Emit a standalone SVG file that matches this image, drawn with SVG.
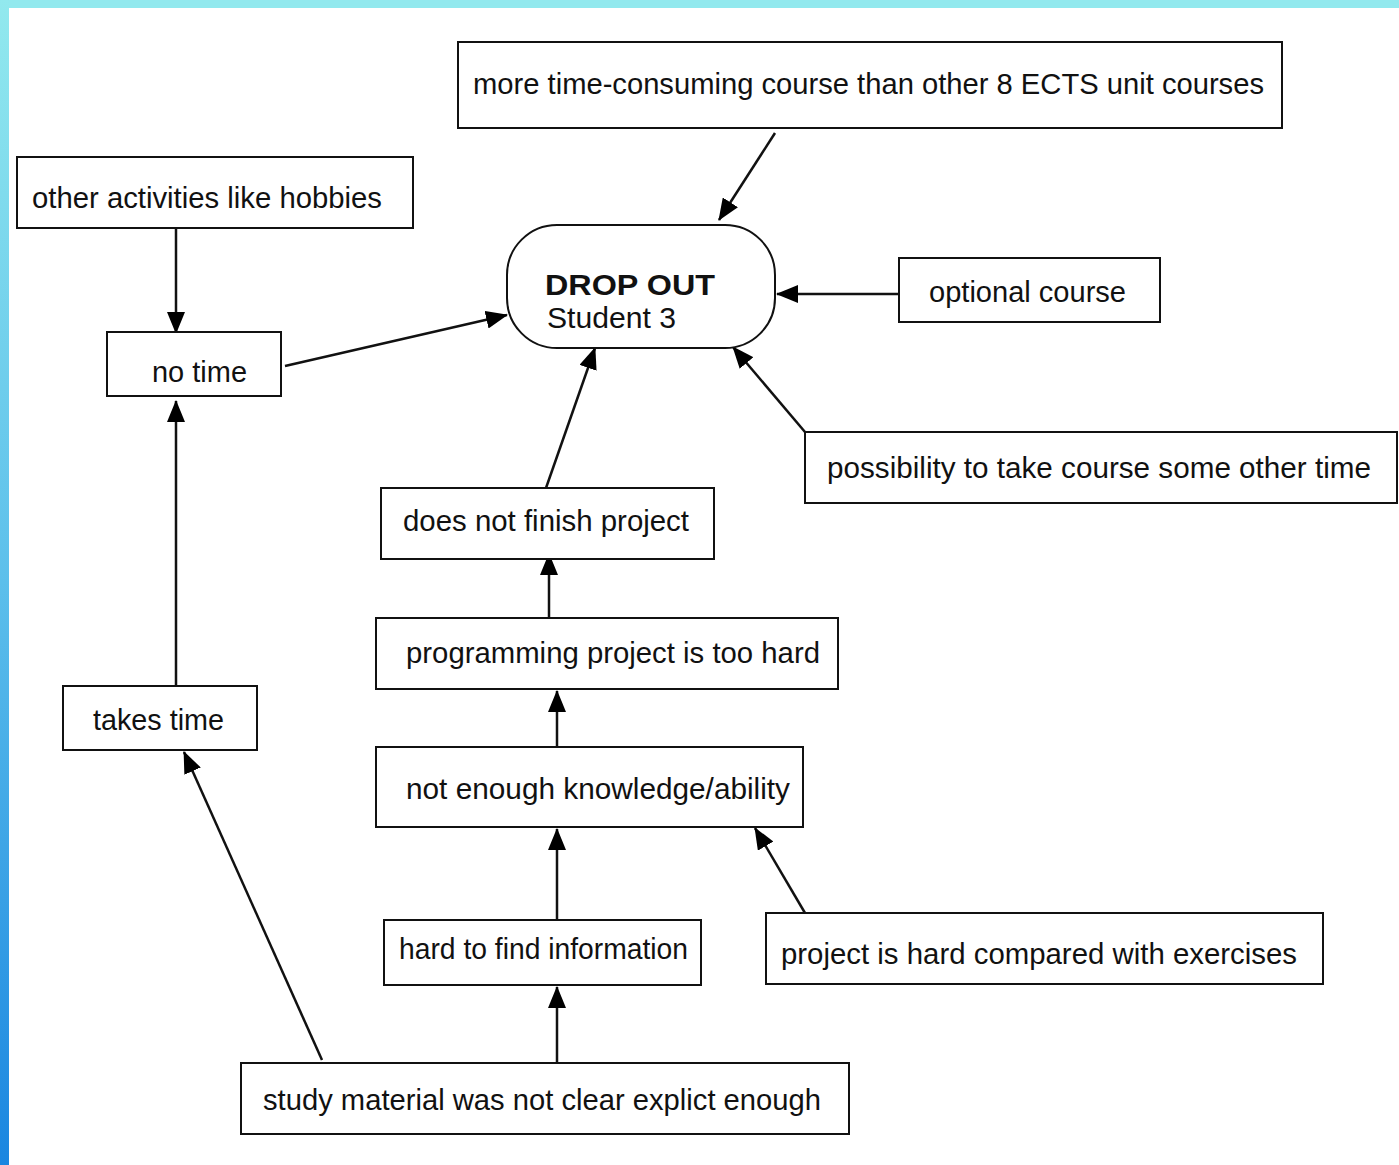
<svg xmlns="http://www.w3.org/2000/svg" width="1399" height="1165" viewBox="0 0 1399 1165">
<defs>
<linearGradient id="lg" x1="0" y1="0" x2="0" y2="1">
<stop offset="0" stop-color="#92E9EE"/>
<stop offset="0.5" stop-color="#5CBFEB"/>
<stop offset="1" stop-color="#1A86E0"/>
</linearGradient>
<marker id="ah" markerUnits="userSpaceOnUse" markerWidth="22" markerHeight="18" refX="21" refY="9" orient="auto">
<path d="M0,0 L22,9 L0,18 Z" fill="#000"/>
</marker>
</defs>
<style>
.bx{fill:#fff;stroke:#111;stroke-width:2}
.t{font-family:"Liberation Sans",Arial,sans-serif;font-size:29px;fill:#111}
.b{font-weight:bold}
.c{stroke:#111;stroke-width:2.5;fill:none;marker-end:url(#ah)}
</style>
<rect width="1399" height="1165" fill="#fff"/>
<rect x="0" y="0" width="1399" height="8" fill="#92E9EE"/>
<rect x="0" y="0" width="9" height="1165" fill="url(#lg)"/>

<g id="connectors">
<line class="c" x1="775" y1="133" x2="719" y2="220"/>
<line class="c" x1="176" y1="228" x2="176" y2="333"/>
<line class="c" x1="285" y1="366" x2="507" y2="315"/>
<line class="c" x1="899" y1="294" x2="777" y2="294"/>
<line class="c" x1="805" y1="432" x2="733" y2="347"/>
<line class="c" x1="546" y1="488" x2="595" y2="348"/>
<line class="c" x1="549" y1="618" x2="549" y2="554"/>
<line class="c" x1="557" y1="747" x2="557" y2="691"/>
<line class="c" x1="557" y1="920" x2="557" y2="829"/>
<line class="c" x1="805" y1="913" x2="755" y2="828"/>
<line class="c" x1="557" y1="1063" x2="557" y2="987"/>
<line class="c" x1="322" y1="1060" x2="184" y2="752"/>
<line class="c" x1="176" y1="686" x2="176" y2="401"/>
</g>

<g id="n-more">
<rect class="bx" x="458" y="42" width="824" height="86"/>
<text class="t" x="473" y="94" textLength="791" lengthAdjust="spacingAndGlyphs">more time-consuming course than other 8 ECTS unit courses</text>
</g>
<g id="n-other">
<rect class="bx" x="17" y="157" width="396" height="71"/>
<text class="t" x="32" y="208" textLength="350" lengthAdjust="spacingAndGlyphs">other activities like hobbies</text>
</g>
<g id="n-notime">
<rect class="bx" x="107" y="332" width="174" height="64"/>
<text class="t" x="152" y="382" textLength="95" lengthAdjust="spacingAndGlyphs">no time</text>
</g>
<g id="n-dropout">
<rect class="bx" x="507" y="225" width="268" height="123" rx="50" ry="50"/>
<text class="t b" x="545" y="295" textLength="170" lengthAdjust="spacingAndGlyphs">DROP  OUT</text>
<text class="t" x="547" y="328" textLength="129" lengthAdjust="spacingAndGlyphs">Student 3</text>
</g>
<g id="n-optional">
<rect class="bx" x="899" y="258" width="261" height="64"/>
<text class="t" x="929" y="302" textLength="197" lengthAdjust="spacingAndGlyphs">optional course</text>
</g>
<g id="n-possibility">
<rect class="bx" x="805" y="432" width="592" height="71"/>
<text class="t" x="827" y="478" textLength="544" lengthAdjust="spacingAndGlyphs">possibility to take course some other time</text>
</g>
<g id="n-finish">
<rect class="bx" x="381" y="488" width="333" height="71"/>
<text class="t" x="403" y="531" textLength="286" lengthAdjust="spacingAndGlyphs">does not finish project</text>
</g>
<g id="n-programming">
<rect class="bx" x="376" y="618" width="462" height="71"/>
<text class="t" x="406" y="663" textLength="414" lengthAdjust="spacingAndGlyphs">programming project is too hard</text>
</g>
<g id="n-takes">
<rect class="bx" x="63" y="686" width="194" height="64"/>
<text class="t" x="93" y="730" textLength="131" lengthAdjust="spacingAndGlyphs">takes time</text>
</g>
<g id="n-knowledge">
<rect class="bx" x="376" y="747" width="427" height="80"/>
<text class="t" x="406" y="799" textLength="384" lengthAdjust="spacingAndGlyphs">not enough knowledge/ability</text>
</g>
<g id="n-hardfind">
<rect class="bx" x="384" y="920" width="317" height="65"/>
<text class="t" x="399" y="959" textLength="289" lengthAdjust="spacingAndGlyphs">hard to find information</text>
</g>
<g id="n-projecthard">
<rect class="bx" x="766" y="913" width="557" height="71"/>
<text class="t" x="781" y="964" textLength="516" lengthAdjust="spacingAndGlyphs">project is hard compared with exercises</text>
</g>
<g id="n-study">
<rect class="bx" x="241" y="1063" width="608" height="71"/>
<text class="t" x="263" y="1110" textLength="558" lengthAdjust="spacingAndGlyphs">study material was not clear explict enough</text>
</g>
</svg>
